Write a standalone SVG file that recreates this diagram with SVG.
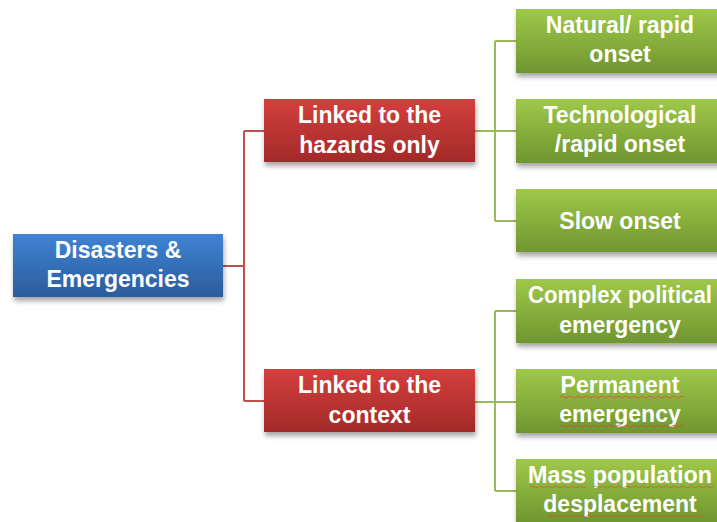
<svg xmlns="http://www.w3.org/2000/svg" width="717" height="522" viewBox="0 0 717 522">
  <defs>
    <linearGradient id="gBlue" x1="0" y1="0" x2="0" y2="1">
      <stop offset="0" stop-color="#3f83d4"/>
      <stop offset="1" stop-color="#2b5c9c"/>
    </linearGradient>
    <linearGradient id="gRed" x1="0" y1="0" x2="0" y2="1">
      <stop offset="0" stop-color="#d43f3d"/>
      <stop offset="1" stop-color="#a32a29"/>
    </linearGradient>
    <linearGradient id="gGreen" x1="0" y1="0" x2="0" y2="1">
      <stop offset="0" stop-color="#9fc84a"/>
      <stop offset="1" stop-color="#6f962f"/>
    </linearGradient>
    <filter id="shadow" x="-10%" y="-20%" width="120%" height="150%">
      <feDropShadow dx="1" dy="4" stdDeviation="2.5" flood-color="#000" flood-opacity="0.35"/>
    </filter>
  </defs>
  <style>
    .box { filter: url(#shadow); }
    .lbl { font-family: "Liberation Sans", Arial, sans-serif; font-weight: bold; font-size: 23px; fill: #ffffff; text-anchor: middle; }
    .red { stroke: #c0504d; stroke-width: 2; fill: none; }
    .grn { stroke: #9bbb59; stroke-width: 2; fill: none; }
    .squig { stroke: #e0483a; stroke-width: 1; fill: none; opacity: 0.75; }
  </style>
  <rect width="717" height="522" fill="#ffffff"/>

  <g id="connectors">
    <path class="red" d="M223 266 H244 M244 131 V401 M244 131 H264 M244 401 H264"/>
    <path class="grn" d="M475 131 H495 M495 41 V221 M495 41 H516 M495 131 H516 M495 221 H516"/>
    <path class="grn" d="M475 402 H495 M495 311 V491 M495 311 H516 M495 402 H516 M495 491 H516"/>
  </g>

  <g id="root">
    <rect class="box" x="13" y="234" width="210" height="63" fill="url(#gBlue)"/>
    <text class="lbl" x="118" y="258">Disasters &amp;</text>
    <text class="lbl" x="118" y="287">Emergencies</text>
  </g>

  <g id="hazards">
    <rect class="box" x="264" y="99" width="211" height="63" fill="url(#gRed)"/>
    <text class="lbl" x="369.5" y="123">Linked to the</text>
    <text class="lbl" x="369.5" y="153">hazards only</text>
  </g>

  <g id="context">
    <rect class="box" x="264" y="369" width="211" height="63" fill="url(#gRed)"/>
    <text class="lbl" x="369.5" y="393">Linked to the</text>
    <text class="lbl" x="369.5" y="423">context</text>
  </g>

  <g id="natural">
    <rect class="box" x="516" y="9" width="212" height="64" fill="url(#gGreen)"/>
    <text class="lbl" x="620" y="33">Natural/ rapid</text>
    <text class="lbl" x="620" y="62">onset</text>
  </g>

  <g id="technological">
    <rect class="box" x="516" y="99" width="212" height="64" fill="url(#gGreen)"/>
    <text class="lbl" x="620" y="123">Technological</text>
    <text class="lbl" x="620" y="152">/rapid onset</text>
  </g>

  <g id="slow">
    <rect class="box" x="516" y="189" width="212" height="63" fill="url(#gGreen)"/>
    <text class="lbl" x="620" y="229">Slow onset</text>
  </g>

  <g id="complex">
    <rect class="box" x="516" y="279" width="212" height="64" fill="url(#gGreen)"/>
    <text class="lbl" x="620" y="303" textLength="184" lengthAdjust="spacingAndGlyphs">Complex political</text>
    <text class="lbl" x="620" y="333">emergency</text>
  </g>

  <g id="permanent">
    <rect class="box" x="516" y="369" width="212" height="64" fill="url(#gGreen)"/>
    <text class="lbl" x="620" y="393">Permanent</text>
    <text class="lbl" x="620" y="422">emergency</text>
    <!-- spell-check underlines -->
    <path class="squig" d="M560 397 q2 -2 4 0 t4 0 t4 0 t4 0 t4 0 t4 0 t4 0 t4 0 t4 0 t4 0 t4 0 t4 0 t4 0 t4 0 t4 0 t4 0 t4 0 t4 0 t4 0 t4 0 t4 0 t4 0 t4 0 t4 0 t4 0 t4 0 t4 0 t4 0 t4 0 t4 0 t4 0"/>
    <path class="squig" d="M560 426 q2 -2 4 0 t4 0 t4 0 t4 0 t4 0 t4 0 t4 0 t4 0 t4 0 t4 0 t4 0 t4 0 t4 0 t4 0 t4 0 t4 0 t4 0 t4 0 t4 0 t4 0 t4 0 t4 0 t4 0 t4 0 t4 0 t4 0 t4 0 t4 0 t4 0 t4 0 t4 0"/>
  </g>

  <g id="displacement">
    <rect class="box" x="516" y="459" width="212" height="64" fill="url(#gGreen)"/>
    <text class="lbl" x="620" y="483" textLength="184" lengthAdjust="spacingAndGlyphs">Mass population</text>
    <text class="lbl" x="620" y="512">desplacement</text>
    <!-- spell-check underlines -->
    <path class="squig" d="M530 487 q2 -2 4 0 t4 0 t4 0 t4 0 t4 0 t4 0 t4 0 t4 0 t4 0 t4 0 t4 0 t4 0 t4 0 t4 0"/>
    <path class="squig" d="M593 487 q2 -2 4 0 t4 0 t4 0 t4 0 t4 0 t4 0 t4 0 t4 0 t4 0 t4 0 t4 0 t4 0 t4 0 t4 0 t4 0 t4 0 t4 0 t4 0 t4 0 t4 0 t4 0 t4 0 t4 0 t4 0 t4 0 t4 0 t4 0 t4 0 t4 0 t4 0"/>
    <path class="squig" d="M547 516 q2 -2 4 0 t4 0 t4 0 t4 0 t4 0 t4 0 t4 0 t4 0 t4 0 t4 0 t4 0 t4 0 t4 0 t4 0 t4 0 t4 0 t4 0 t4 0 t4 0 t4 0 t4 0 t4 0 t4 0 t4 0 t4 0 t4 0 t4 0 t4 0 t4 0 t4 0 t4 0 t4 0 t4 0 t4 0 t4 0 t4 0 t4 0 t4 0 t4 0"/>
  </g>
</svg>
